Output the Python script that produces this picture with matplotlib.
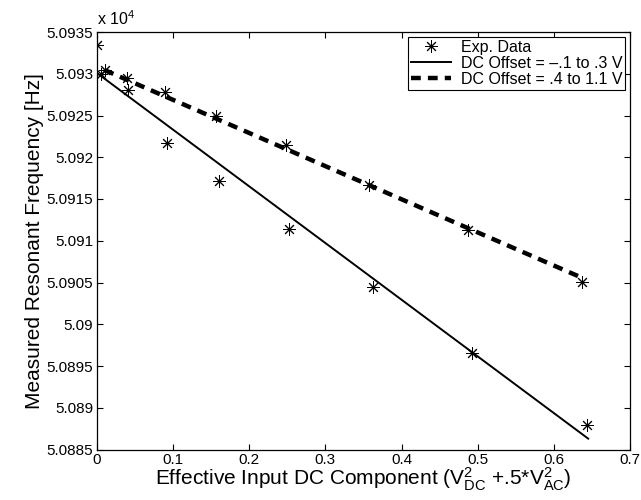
import matplotlib
matplotlib.use("Agg")
import matplotlib.pyplot as plt
from matplotlib.ticker import FuncFormatter, MultipleLocator

plt.rcParams['font.family'] = ['Liberation Sans', 'DejaVu Sans']
plt.rcParams['mathtext.fontset'] = 'custom'
plt.rcParams['mathtext.rm'] = 'Liberation Sans'
plt.rcParams['mathtext.it'] = 'Liberation Sans'

# Experimental data (x: effective DC component, y: frequency in Hz)
exp_x = [0.0, 0.006, 0.011, 0.039, 0.041, 0.089, 0.092, 0.157, 0.161,
         0.249, 0.252, 0.357, 0.362, 0.487, 0.493, 0.637, 0.644]
exp_y = [50933.4, 50930.0, 50930.4, 50929.5, 50928.0, 50927.8, 50921.7,
         50924.9, 50917.2, 50921.5, 50911.4, 50916.7, 50904.5, 50911.3,
         50896.6, 50905.1, 50887.9]

# Linear fits
fit1_x = [0.0, 0.645]
fit1_y = [50930.1, 50886.3]
fit2_x = [0.010, 0.636]
fit2_y = [50930.45, 50905.6]

xticks = [0, 0.1, 0.2, 0.3, 0.4, 0.5, 0.6, 0.7]

fig = plt.figure(figsize=(6.41, 5.0), dpi=100)
ax = fig.add_axes([0.151, 0.101, 0.832, 0.835])

ast = (8, 2, 0)
ax.plot(exp_x, exp_y, linestyle='none', marker=ast, markersize=9,
        markeredgewidth=0.7, color='black', label='Exp. Data')
ax.plot(fit1_x, fit1_y, '-', color='black', lw=1.4,
        label='DC Offset = \u2013.1 to .3 V')
ax.plot(fit2_x, fit2_y, '--', color='black', lw=3.2, dashes=(2.2, 1.6),
        label='DC Offset = .4 to 1.1 V')

ax.set_xlim(0, 0.7)
ax.set_ylim(50885, 50935)
ax.set_xticks(xticks)
ax.set_xticklabels(['0', '0.1', '0.2', '0.3', '0.4', '0.5', '0.6', '0.7'])
ax.yaxis.set_major_locator(MultipleLocator(5))
ax.yaxis.set_major_formatter(FuncFormatter(lambda v, p: '%g' % round(v / 1e4, 5)))

ax.tick_params(direction='in', length=4.5, width=0.8, top=True, right=True,
               labelsize=11, colors='black', pad=2.5)
for s in ax.spines.values():
    s.set_linewidth(0.9)
    s.set_color('black')

ax.text(0.0, 1.01, r'x 10$^{4}$', transform=ax.transAxes, ha='left',
        va='bottom', fontsize=11.5)

ax.set_ylabel('Measured Resonant Frequency [Hz]', fontsize=15, labelpad=2)
ax.set_xlabel(r'Effective Input DC Component (V$^{2}_{DC}$ +.5*V$^{2}_{AC}$)',
              fontsize=15, labelpad=-1)

leg = ax.legend(loc='upper right', fontsize=11.5, frameon=True, fancybox=False,
                edgecolor='black', framealpha=1, borderpad=0.2,
                labelspacing=0.05, handlelength=2.5, handletextpad=0.6,
                borderaxespad=0.3)
leg.get_frame().set_linewidth(0.8)

fig.savefig('out.png', dpi=100)
